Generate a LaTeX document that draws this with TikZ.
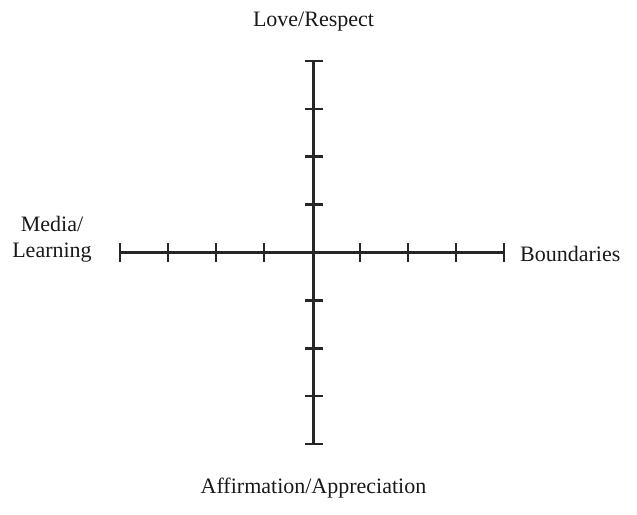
\documentclass[tikz,border=0pt]{standalone}
\usepackage{fontspec}
\setmainfont{Liberation Serif}
\begin{document}
\begin{tikzpicture}[x=1pt,y=-1pt,
  axisline/.style={line width=2.6pt,draw=black!85},
  tickmark/.style={line width=2.6pt,draw=black!85},
  lbl/.style={font=\fontsize{22}{26}\selectfont,inner sep=0pt,text=black!90}]
\useasboundingbox (0,0) rectangle (637,514);
\coordinate (L) at (120,252.7);
\coordinate (R) at (504,252.7);
\coordinate (T) at (313.5,61);
\coordinate (B) at (313.5,444);
\draw[axisline] (L) -- (R);
\draw[axisline] (T) -- (B);
\foreach \i in {0,1,2,3,5,6,7,8}{
  \draw[tickmark] (120+48*\i,243) -- (120+48*\i,262.4);
  \draw[tickmark] (304.5,61+47.875*\i) -- (322.5,61+47.875*\i);
}
\node[lbl,anchor=base] (top) at (313.5,26) {Love/Respect};
\node[lbl,anchor=base] (bot) at (313.5,493) {Affirmation/Appreciation};
\node[lbl,anchor=base west] (right) at (520,261.7) {Boundaries};
\node[lbl,anchor=base,align=center] (left) at (52,257) {Media/\\Learning};
\end{tikzpicture}
\end{document}
